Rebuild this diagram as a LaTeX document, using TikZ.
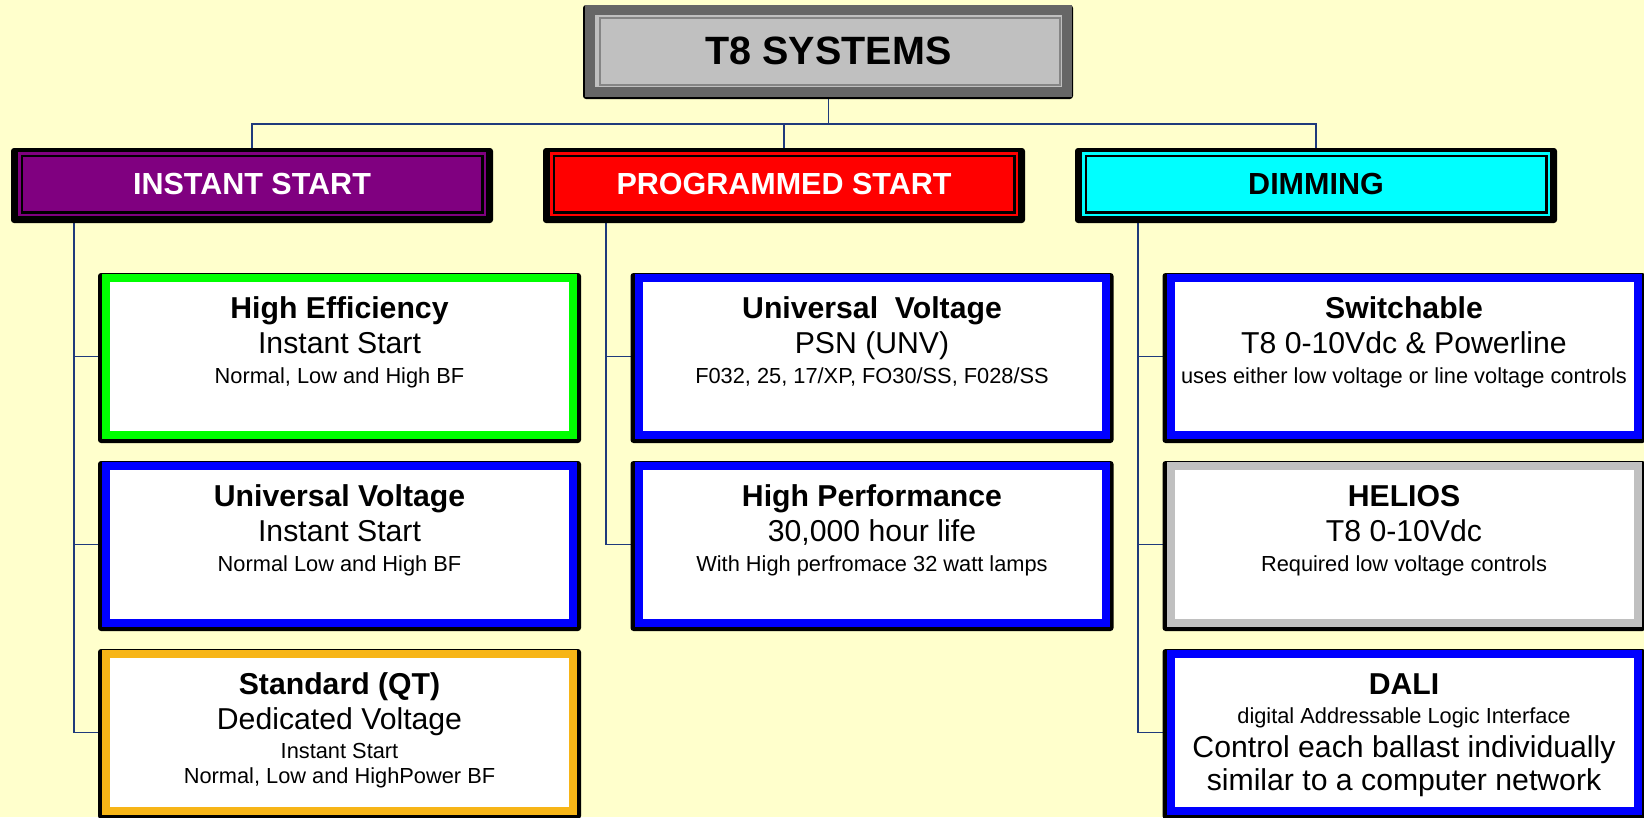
\documentclass[tikz,border=0pt]{standalone}
\usepackage{fontspec}
\setmainfont{Liberation Sans}
\pgfdeclarelayer{bglayer}
\pgfdeclarelayer{connlayer}
\pgfdeclarelayer{shadowlayer}
\pgfsetlayers{bglayer,connlayer,shadowlayer,main}
\definecolor{bgc}{HTML}{FFFFCC}
\definecolor{connc}{HTML}{1F3A7C}
\definecolor{rootframe}{HTML}{666666}
\definecolor{rootfill}{HTML}{C0C0C0}
\definecolor{rootline}{HTML}{858585}
\definecolor{catpurple}{HTML}{800080}
\definecolor{catred}{HTML}{FF0000}
\definecolor{catcyan}{HTML}{00FFFF}
\definecolor{bxblue}{HTML}{0000FF}
\definecolor{bxgreen}{HTML}{00FF00}
\definecolor{bxorange}{HTML}{F7B517}
\definecolor{bxgray}{HTML}{C0C0C0}
\newcommand{\fRoot}{\fontsize{39.5}{46}\selectfont\bfseries}
\newcommand{\fCat}{\fontsize{30.5}{35}\selectfont\bfseries}
\newcommand{\fTitle}{\fontsize{30.2}{35}\selectfont\bfseries}
\newcommand{\fBig}{\fontsize{30.2}{35}\selectfont}
\newcommand{\fSmall}{\fontsize{21.8}{26}\selectfont}
\tikzset{
  conn/.style={draw=connc, line width=1.5pt},
  rootbox/.style={rectangle, draw=rootframe, line width=10pt, fill=rootfill,
    minimum width=477pt, minimum height=82pt, inner sep=0pt, outer sep=0pt,
    font=\fRoot, text=black},
  catbox/.style={rectangle, draw=#1, double=black, double distance=2.5pt,
    line width=2.5pt, fill=#1, minimum width=460.5pt, minimum height=56.5pt,
    inner sep=0pt, outer sep=0pt, font=\fCat},
  childbox/.style={rectangle, draw=#1, line width=8pt, fill=white,
    minimum width=467pt, minimum height=157pt, inner sep=0pt, outer sep=0pt},
  shadowfill/.style={fill=black, rounded corners=3pt},
  txt/.style={anchor=base, inner sep=0pt, text=black}
}
\newcommand{\boxtext}[4]{%
  \node[txt, font=\fTitle] (#1-a) at ([yshift=38pt]#1.center) {#2};
  \node[txt, font=\fBig] (#1-b) at ([yshift=3pt]#1.center) {#3};
  \node[txt, font=\fSmall] (#1-c) at ([yshift=-27pt]#1.center) {#4};}
\begin{document}
\begin{tikzpicture}[x=1pt,y=-1pt]
\useasboundingbox (0,0) rectangle (1644,817);
\begin{pgfonlayer}{bglayer}
\fill[bgc] (0,0) rectangle (1644,817);
\end{pgfonlayer}

% root
\node[rootbox] (root) at (828.5,51) {T8 SYSTEMS};
\draw[rootline, line width=1.4pt] ([shift={(10,8)}]root.north west) rectangle ([shift={(-7,-7)}]root.south east);

% categories
\node[catbox=catpurple, text=white] (is) at (252,184) {INSTANT START};
\node[catbox=catred, text=white] (ps) at (784,184) {PROGRAMMED START};
\node[catbox=catcyan, text=black] (ds) at (1316,184) {DIMMING};

% children
\node[childbox=bxgreen] (he) at (339.5,356.5) {};
\node[childbox=bxblue] (uv1) at (339.5,544.5) {};
\node[childbox=bxorange] (std) at (339.5,732.5) {};
\node[childbox=bxblue] (uvp) at (872,356.5) {};
\node[childbox=bxblue] (hp) at (872,544.5) {};
\node[childbox=bxblue] (sw) at (1404,356.5) {};
\node[childbox=bxgray] (hel) at (1404,544.5) {};
\node[childbox=bxblue] (dali) at (1404,732.5) {};

\boxtext{he}{High Efficiency}{Instant Start}{Normal, Low and High BF}
\boxtext{uv1}{Universal Voltage}{Instant Start}{Normal Low and High BF}
\boxtext{uvp}{Universal~~Voltage}{PSN (UNV)}{F032, 25, 17/XP, FO30/SS, F028/SS}
\boxtext{hp}{High Performance}{30,000 hour life}{With High perfromace 32 watt lamps}
\boxtext{sw}{Switchable}{T8 0-10Vdc \& Powerline}{uses either low voltage or line voltage controls}
\boxtext{hel}{HELIOS}{T8 0-10Vdc}{Required low voltage controls}

\node[txt, font=\fTitle] (std-a) at ([yshift=38pt]std.center) {Standard (QT)};
\node[txt, font=\fBig] (std-b) at ([yshift=3pt]std.center) {Dedicated Voltage};
\node[txt, font=\fSmall] (std-c) at ([yshift=-26pt]std.center) {Instant Start};
\node[txt, font=\fSmall] (std-d) at ([yshift=-51pt]std.center) {Normal, Low and HighPower BF};

\node[txt, font=\fTitle] (dali-a) at ([yshift=38pt]dali.center) {DALI};
\node[txt, font=\fSmall] (dali-b) at ([yshift=9.5pt]dali.center) {digital Addressable Logic Interface};
\node[txt, font=\fBig] (dali-c) at ([yshift=-25pt]dali.center) {Control each ballast individually};
\node[txt, font=\fBig] (dali-d) at ([yshift=-57.5pt]dali.center) {similar to a computer network};

% shadows
\begin{pgfonlayer}{shadowlayer}
\fill[shadowfill] ([shift={(-7,-5)}]root.north west) rectangle ([shift={(6,7)}]root.south east);
\foreach \n in {is,ps,ds}{
  \fill[shadowfill] ([shift={(-10.75,-7.75)}]\n.north west) rectangle ([shift={(10.75,10.75)}]\n.south east);
}
\foreach \n in {he,uv1,std,uvp,hp,sw,hel,dali}{
  \fill[shadowfill] ([shift={(-8,-5)}]\n.north west) rectangle ([shift={(8,8)}]\n.south east);
}
\end{pgfonlayer}

% connectors
\begin{pgfonlayer}{connlayer}
\coordinate (t1) at (74,223);
\coordinate (t2) at (606,223);
\coordinate (t3) at (1138,223);
\draw[conn] (root.south) -- ++(0,32) coordinate (hub);
\draw[conn] (hub) -| (is.north);
\draw[conn] (hub) -| (ps.north);
\draw[conn] (hub) -| (ds.north);
\draw[conn] (is.south -| t1) |- (std.west);
\draw[conn] (t1 |- he.west) -- (he.west);
\draw[conn] (t1 |- uv1.west) -- (uv1.west);
\draw[conn] (ps.south -| t2) |- (hp.west);
\draw[conn] (t2 |- uvp.west) -- (uvp.west);
\draw[conn] (ds.south -| t3) |- (dali.west);
\draw[conn] (t3 |- sw.west) -- (sw.west);
\draw[conn] (t3 |- hel.west) -- (hel.west);
\end{pgfonlayer}
\end{tikzpicture}
\end{document}
